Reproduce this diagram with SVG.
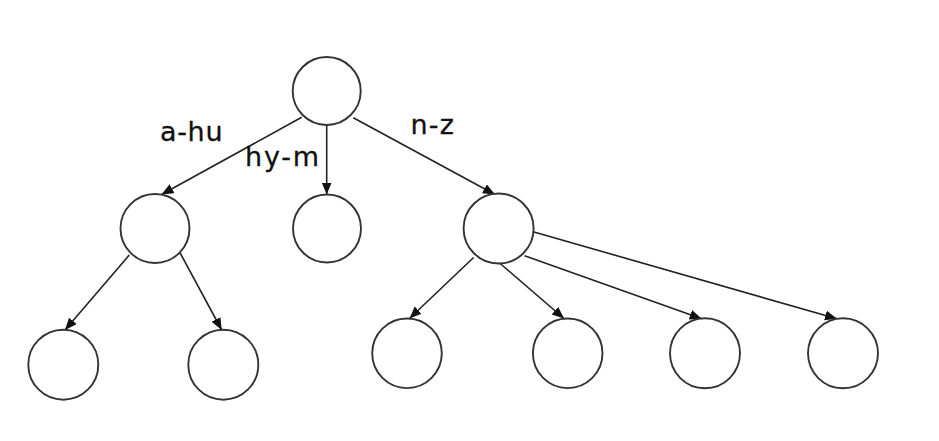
<svg xmlns="http://www.w3.org/2000/svg" width="939" height="441" viewBox="0 0 939 441">
<style>
.node circle{fill:#fff;stroke:#333;stroke-width:1.9}
.edge{stroke:#222;stroke-width:1.6;fill:none;marker-end:url(#arr)}
.lbl{font-family:"DejaVu Sans",Verdana,sans-serif;font-size:27px;fill:#111;stroke:#111;stroke-width:0.3}
</style>
<defs>
<marker id="arr" markerUnits="userSpaceOnUse" markerWidth="13" markerHeight="11" refX="12" refY="5" orient="auto">
<path d="M0,0 L12,5 L0,10 z" fill="#111"/>
</marker>
</defs>
<rect width="939" height="441" fill="#fff"/>
<g id="connectors">
<line class="edge" x1="301.7" y1="117.3" x2="161.5" y2="194.5"/>
<line class="edge" x1="326.7" y1="125" x2="326.7" y2="194.5"/>
<line class="edge" x1="353.3" y1="117.7" x2="495" y2="194.5"/>
<line class="edge" x1="129.3" y1="255" x2="65" y2="330"/>
<line class="edge" x1="180" y1="252.7" x2="221.7" y2="330"/>
<line class="edge" x1="473.6" y1="257.5" x2="409.5" y2="318.5"/>
<line class="edge" x1="499.5" y1="263" x2="564" y2="318.5"/>
<line class="edge" x1="524.6" y1="255.8" x2="701.7" y2="318.8"/>
<line class="edge" x1="534" y1="232" x2="837" y2="318.8"/>
</g>
<g id="root" class="node"><circle cx="326.7" cy="91" r="34"/></g>
<g id="n-ahu" class="node"><circle cx="155" cy="228.5" r="34.5"/></g>
<g id="n-hym" class="node"><circle cx="327" cy="228.5" r="34"/></g>
<g id="n-nz" class="node"><circle cx="498.6" cy="228.5" r="35"/></g>
<g id="n-ahu-1" class="node"><circle cx="63.3" cy="364.7" r="35"/></g>
<g id="n-ahu-2" class="node"><circle cx="223.3" cy="364.7" r="35"/></g>
<g id="n-nz-1" class="node"><circle cx="407" cy="353.3" r="34.8"/></g>
<g id="n-nz-2" class="node"><circle cx="567.7" cy="353.3" r="34.8"/></g>
<g id="n-nz-3" class="node"><circle cx="705" cy="353.3" r="35"/></g>
<g id="n-nz-4" class="node"><circle cx="843" cy="353.3" r="35"/></g>
<g id="labels">
<text class="lbl" x="160" y="141" textLength="62.5" lengthAdjust="spacing">a-hu</text>
<text class="lbl" x="245" y="166" textLength="74" lengthAdjust="spacing">hy-m</text>
<text class="lbl" x="410.5" y="133.5" textLength="43.5" lengthAdjust="spacing">n-z</text>
</g>
</svg>
